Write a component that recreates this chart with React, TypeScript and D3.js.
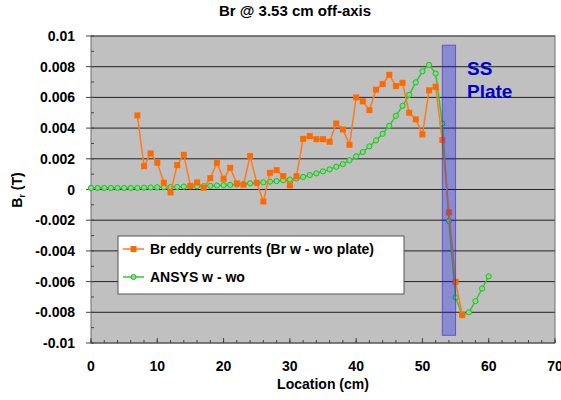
import React from 'react';
import { scaleLinear, line, range } from 'd3';

// measured Br eddy currents (Br w - wo plate), x in cm
const eddyX = [7, 8, 9, 10, 11, 12, 13, 14, 15, 16, 17, 18, 19, 20, 21, 22, 23, 24, 25, 26, 27, 28, 29, 30, 31,
  32, 33, 34, 35, 36, 37, 38, 39, 40, 41, 42, 43, 44, 45, 46, 47, 48, 49, 50, 51, 52, 53, 54, 55, 56];
const eddyY = [0.00483, 0.00152, 0.00235, 0.00174, 0.00044, -0.00019, 0.00159, 0.00226, 0.00024, 0.00046,
  0.00011, 0.00074, 0.00174, 0.0007, 0.00141, 0.0004, 0.00031, 0.00218, 0.00044, -0.00078, 0.00109, 0.00126,
  0.00087, 0.00027, 0.00087, 0.0033, 0.00348, 0.00328, 0.00328, 0.00311, 0.0043, 0.00391, 0.00291, 0.006,
  0.00574, 0.00517, 0.0065, 0.00687, 0.00747, 0.00674, 0.00695, 0.005, 0.00457, 0.00359, 0.00646, 0.00669,
  0.00322, -0.00149, -0.00601, -0.00818];

// ANSYS w - wo
const ansysX = range(0, 61);
const ansysY = [0.0001, 0.0001, 0.0001, 0.0001, 0.0001, 0.0001, 0.0001, 0.0001, 0.00012, 0.00013, 0.00014,
  0.00015, 0.00016, 0.00017, 0.00019, 0.0002, 0.00021, 0.00022, 0.00024, 0.00026, 0.00028, 0.0003, 0.00033,
  0.00036, 0.0004, 0.00043, 0.00047, 0.00051, 0.00055, 0.0006, 0.00065, 0.00072, 0.00082, 0.00094, 0.00105,
  0.00118, 0.00131, 0.00148, 0.00165, 0.0019, 0.00216, 0.00244, 0.00281, 0.0032, 0.00363, 0.00415, 0.0048,
  0.00545, 0.00617, 0.00698, 0.0077, 0.00812, 0.00756, 0.0043, -0.00206, -0.00703, -0.00818, -0.008,
  -0.00727, -0.00645, -0.00566];

const xTicks = [0, 10, 20, 30, 40, 50, 60, 70];
const yTicks = [0.01, 0.008, 0.006, 0.004, 0.002, 0, -0.002, -0.004, -0.006, -0.008, -0.01];
const yTickLabels = ['0.01', '0.008', '0.006', '0.004', '0.002', '0', '-0.002', '-0.004', '-0.006', '-0.008', '-0.01'];

// SS plate region
const plateX = [53, 55];
const plateY = [-0.0095, 0.0094];

const W = 561, H = 400;
const font = 'Arial, "Liberation Sans", sans-serif';

export default function App() {
  const x = scaleLinear().domain([0, 70]).range([91, 555]);
  const y = scaleLinear().domain([-0.01, 0.01]).range([343, 36]);

  const eddy = eddyX.map((d, i) => [d, eddyY[i]] as [number, number]);
  const ansys = ansysX.map((d, i) => [d, ansysY[i]] as [number, number]);
  const path = line<[number, number]>().x(d => x(d[0])).y(d => y(d[1]));

  const minorY = range(-0.01, 0.0100001, 0.001);
  const minorX = range(0, 71, 2);

  return (
    <svg width={W} height={H} style={{ position: 'absolute', left: 0, top: 0, background: '#fff' }}
      fontFamily={font} fontWeight="bold">
      <text x={295} y={16} textAnchor="middle" fontSize={15}>Br @ 3.53 cm off-axis</text>

      {/* plot area */}
      <rect x={x(0)} y={y(0.01)} width={x(70) - x(0)} height={y(-0.01) - y(0.01)} fill="#c0c0c0" />
      {yTicks.map(t => (
        <line key={'g' + t} x1={x(0)} x2={x(70)} y1={y(t)} y2={y(t)} stroke="#222" strokeWidth={1} />
      ))}
      <rect x={x(0)} y={y(0.01)} width={x(70) - x(0)} height={y(-0.01) - y(0.01)} fill="none" stroke="#6e6e6e" />

      {/* y axis ticks */}
      {minorY.map(t => (
        <line key={'my' + t} x1={x(0)} x2={x(0) + 3} y1={y(t)} y2={y(t)} stroke="#444" />
      ))}
      {yTicks.map((t, i) => (
        <g key={'yt' + t}>
          <line x1={x(0) - 5} x2={x(0)} y1={y(t)} y2={y(t)} stroke="#444" />
          <text x={75} y={y(t) + 5} textAnchor="end" fontSize={14}>{yTickLabels[i]}</text>
        </g>
      ))}

      {/* x axis ticks */}
      {minorX.map(t => (
        <line key={'mx' + t} x1={x(t)} x2={x(t)} y1={y(-0.01)} y2={y(-0.01) - 3} stroke="#444" />
      ))}
      {xTicks.map(t => (
        <g key={'xt' + t}>
          <line x1={x(t)} x2={x(t)} y1={y(-0.01)} y2={y(-0.01) - 5} stroke="#444" />
          <text x={x(t)} y={371} textAnchor="middle" fontSize={14}>{t}</text>
        </g>
      ))}
      <text x={323} y={389} textAnchor="middle" fontSize={14}>Location (cm)</text>
      <text transform="translate(22,190) rotate(-90)" textAnchor="middle" fontSize={14}>
        B<tspan fontSize={9} dy={3}>r</tspan><tspan dy={-3}> (T)</tspan>
      </text>

      {/* series */}
      <path d={path(ansys) || ''} fill="none" stroke="#33c833" strokeWidth={1.5} />
      {ansys.map(d => (
        <circle key={'a' + d[0]} cx={x(d[0])} cy={y(d[1])} r={2.6} fill="#7ee07e" stroke="#2fb62f" strokeWidth={1} />
      ))}
      <path d={path(eddy) || ''} fill="none" stroke="#ff7a1a" strokeWidth={1.5} />
      {eddy.map(d => (
        <rect key={'e' + d[0]} x={x(d[0]) - 3} y={y(d[1]) - 3} width={6} height={6} fill="#ff6a00" />
      ))}

      {/* SS plate */}
      <rect x={x(plateX[0])} y={y(plateY[1])} width={x(plateX[1]) - x(plateX[0])} height={y(plateY[0]) - y(plateY[1])}
        fill="rgba(0,0,255,0.28)" stroke="rgba(40,40,200,0.6)" strokeWidth={1} />
      <text x={467} y={75} fontSize={19} fill="#0000cc">SS</text>
      <text x={467} y={98} fontSize={19} fill="#0000cc">Plate</text>

      {/* legend */}
      <rect x={118} y={236} width={286} height={58} fill="#fff" stroke="#555" />
      <line x1={123} x2={144} y1={249} y2={249} stroke="#ff7a1a" strokeWidth={1.5} />
      <rect x={130.5} y={246} width={6} height={6} fill="#ff6a00" />
      <text x={150} y={254} fontSize={14}>Br eddy currents (Br w - wo plate)</text>
      <line x1={123} x2={144} y1={277} y2={277} stroke="#33c833" strokeWidth={1.5} />
      <circle cx={133.5} cy={277} r={2.6} fill="#7ee07e" stroke="#2fb62f" />
      <text x={150} y={282} fontSize={14}>ANSYS w - wo</text>
    </svg>
  );
}
